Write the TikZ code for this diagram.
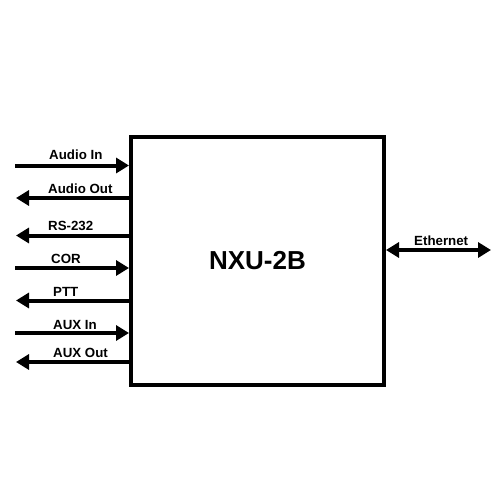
\documentclass[tikz,border=0pt]{standalone}
\usepackage{fontspec}
\setmainfont{Liberation Sans}
\usetikzlibrary{arrows.meta}
\begin{document}
\begin{tikzpicture}[x=1pt,y=-1pt,
  sig/.style={line width=4pt,-{Triangle[length=13pt,width=15pt]}},
  bidir/.style={line width=4pt,{Triangle[length=13pt,width=15pt]}-{Triangle[length=13pt,width=15pt]}},
  lbl/.style={inner sep=0pt,anchor=base west,font=\bfseries\fontsize{13.3}{15}\selectfont},
  unit/.style={draw,line width=4pt,inner sep=0pt,minimum width=253pt,minimum height=248pt,font=\bfseries\fontsize{26}{28}\selectfont}]
\useasboundingbox (0,0) rectangle (500,500);
\node[unit] (box) at (257.5,260.5) {NXU-2B};
% free ends
\coordinate (ai) at (15,165.5);
\coordinate (ao) at (16,198);
\coordinate (rs) at (16,235.5);
\coordinate (cor) at (15,268);
\coordinate (ptt) at (16,300.5);
\coordinate (auxi) at (15,333);
\coordinate (auxo) at (16,362);
\coordinate (eth) at (491,250);
% connectors
\draw[sig] (ai) -- (ai -| box.west);
\draw[sig] (ao -| box.west) -- (ao);
\draw[sig] (rs -| box.west) -- (rs);
\draw[sig] (cor) -- (cor -| box.west);
\draw[sig] (ptt -| box.west) -- (ptt);
\draw[sig] (auxi) -- (auxi -| box.west);
\draw[sig] (auxo -| box.west) -- (auxo);
\draw[bidir] (eth -| box.east) -- (eth);
% labels
\node[lbl] (lai) at (49,159.5) {Audio In};
\node[lbl] (lao) at (48,193.5) {Audio Out};
\node[lbl] (lrs) at (48,230.5) {RS-232};
\node[lbl] (lcor) at (51,263.5) {COR};
\node[lbl] (lptt) at (53,296.5) {PTT};
\node[lbl] (lauxi) at (53,329.5) {AUX In};
\node[lbl] (lauxo) at (53,357) {AUX Out};
\node[lbl] (leth) at (414,245.5) {Ethernet};
\end{tikzpicture}
\end{document}
